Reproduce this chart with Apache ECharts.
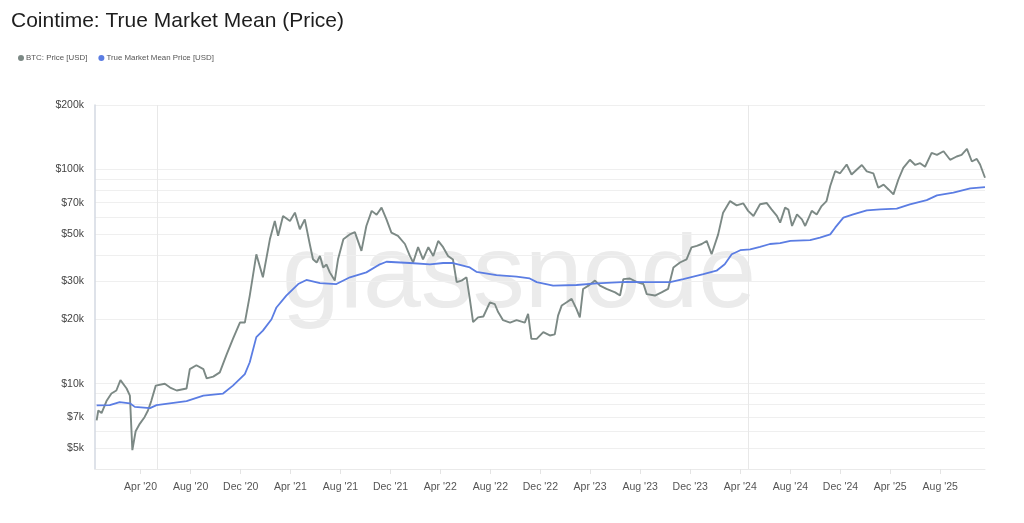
<!DOCTYPE html>
<html>
<head>
<meta charset="utf-8">
<script src="https://cdn.jsdelivr.net/npm/echarts@6/dist/echarts.min.js"></script>
<style>
html,body{margin:0;padding:0;background:#fff;}
#chart{width:1024px;height:523px;}
</style>
</head>
<body>
<div id="chart"></div>
<script>
// ---- data ----
var btcDates = ['2019-12-16','2019-12-20','2019-12-28','2020-01-09','2020-01-21','2020-02-02','2020-02-12','2020-02-27','2020-03-06','2020-03-12','2020-03-20','2020-03-30','2020-04-11','2020-04-19','2020-04-27','2020-05-08','2020-05-30','2020-06-12','2020-06-28','2020-07-22','2020-07-30','2020-08-15','2020-09-01','2020-09-09','2020-09-25','2020-10-11','2020-10-27','2020-11-12','2020-11-29','2020-12-11','2020-12-23','2021-01-08','2021-01-24','2021-02-10','2021-02-22','2021-03-02','2021-03-14','2021-03-31','2021-04-12','2021-04-24','2021-05-06','2021-05-18','2021-05-26','2021-06-04','2021-06-12','2021-06-20','2021-06-28','2021-07-06','2021-07-18','2021-07-26','2021-08-08','2021-08-24','2021-09-05','2021-09-21','2021-10-03','2021-10-16','2021-10-28','2021-11-09','2021-11-21','2021-12-03','2021-12-19','2022-01-05','2022-01-17','2022-01-25','2022-02-06','2022-02-18','2022-03-03','2022-03-15','2022-03-27','2022-04-08','2022-04-20','2022-05-02','2022-05-11','2022-05-23','2022-06-04','2022-06-12','2022-06-20','2022-07-02','2022-07-15','2022-07-31','2022-08-12','2022-08-20','2022-09-01','2022-09-18','2022-10-04','2022-10-24','2022-11-01','2022-11-09','2022-11-22','2022-12-08','2022-12-24','2023-01-05','2023-01-13','2023-01-22','2023-02-03','2023-02-15','2023-02-27','2023-03-07','2023-03-15','2023-03-28','2023-04-13','2023-04-25','2023-05-11','2023-06-01','2023-06-13','2023-06-21','2023-07-07','2023-07-24','2023-08-09','2023-08-17','2023-09-06','2023-09-22','2023-10-08','2023-10-21','2023-11-06','2023-11-22','2023-12-04','2023-12-17','2023-12-29','2024-01-10','2024-01-22','2024-02-07','2024-02-19','2024-03-07','2024-03-23','2024-04-08','2024-04-20','2024-05-03','2024-05-19','2024-06-04','2024-06-16','2024-06-29','2024-07-07','2024-07-19','2024-07-27','2024-08-05','2024-08-17','2024-08-29','2024-09-06','2024-09-22','2024-10-04','2024-10-16','2024-10-28','2024-11-06','2024-11-18','2024-11-30','2024-12-16','2024-12-28','2025-01-10','2025-01-22','2025-02-03','2025-02-19','2025-03-03','2025-03-16','2025-03-28','2025-04-09','2025-04-21','2025-05-03','2025-05-19','2025-06-01','2025-06-13','2025-06-25','2025-07-11','2025-07-24','2025-08-09','2025-08-25','2025-09-10','2025-09-22','2025-10-05','2025-10-17','2025-10-29','2025-11-06','2025-11-18'];
var btcValues = [6750,7500,7300,8300,9000,9300,10400,9500,8800,4900,6000,6500,7000,7500,8300,9800,10000,9600,9300,9500,11700,12200,11700,10600,10800,11300,13600,16200,19300,19300,25800,40200,31400,47200,57500,49000,60700,57500,62900,52600,58500,45000,38100,36800,39500,34900,36000,33100,30300,38100,47200,49800,51000,41700,54500,64100,61500,66400,58500,50700,49000,44900,39500,36800,43400,38100,43400,39500,46400,43400,39500,38000,29800,30300,31400,24900,19400,20400,20600,24000,23500,21600,19800,19300,19800,19300,21200,16200,16200,17400,16800,17000,20800,23200,24000,24900,22300,20400,27700,28700,30300,28700,27700,26700,25800,30800,31000,29800,29200,26200,25800,26700,27700,34900,36800,38100,43300,44000,44900,46400,40200,49800,62900,71200,68000,69500,64100,60700,68800,69800,65100,60700,56500,66400,65000,54500,61700,58500,54500,64100,61700,67500,71200,83700,98200,96000,105500,94800,100000,105000,98000,96000,82200,85000,80700,76500,89800,101800,111000,105000,107000,103000,119600,117000,121700,111000,115000,117000,124800,109000,112000,105500,91500];

var tmmDates = ['2019-12-16','2020-01-17','2020-02-10','2020-03-06','2020-03-18','2020-04-24','2020-05-10','2020-07-22','2020-09-01','2020-10-19','2020-11-12','2020-12-11','2020-12-23','2021-01-08','2021-01-24','2021-02-14','2021-02-26','2021-03-22','2021-04-20','2021-05-10','2021-06-12','2021-07-22','2021-08-24','2021-10-03','2021-11-05','2021-11-21','2022-01-17','2022-03-07','2022-04-08','2022-05-02','2022-06-12','2022-06-28','2022-08-16','2022-10-04','2022-11-05','2022-11-22','2023-01-01','2023-02-27','2023-04-17','2023-06-29','2023-08-17','2023-10-13','2023-11-14','2024-01-02','2024-02-03','2024-02-23','2024-03-11','2024-04-01','2024-04-25','2024-05-19','2024-06-12','2024-07-07','2024-08-01','2024-09-18','2024-10-12','2024-11-06','2024-11-18','2024-12-08','2025-01-01','2025-02-03','2025-03-08','2025-04-17','2025-05-19','2025-06-29','2025-07-24','2025-09-02','2025-10-13','2025-11-18'];
var tmmValues = [7930,7950,8200,8100,7800,7700,7950,8300,8800,9000,9800,11100,12600,16500,17700,20000,22700,25800,29200,30500,29500,29200,31400,33100,36100,37100,36600,36100,36600,36600,34900,33300,32100,31600,31000,29800,28700,28900,29400,29900,29800,29800,30800,32500,33700,36100,40200,42000,42400,43500,44900,45300,46400,46800,48100,49800,53500,59600,61700,64500,65100,65600,68800,72000,75700,77900,81600,82700];

var xTickDates = ['2020-04-01','2020-08-01','2020-12-01','2021-04-01','2021-08-01','2021-12-01','2022-04-01','2022-08-01','2022-12-01','2023-04-01','2023-08-01','2023-12-01','2024-04-01','2024-08-01','2024-12-01','2025-04-01','2025-08-01'];
var xTickLabels = ["Apr '20","Aug '20","Dec '20","Apr '21","Aug '21","Dec '21","Apr '22","Aug '22","Dec '22","Apr '23","Aug '23","Dec '23","Apr '24","Aug '24","Dec '24","Apr '25","Aug '25"];
var yGridValues = [5000,6000,7000,8000,9000,10000,20000,30000,40000,50000,60000,70000,80000,90000,100000,200000];
var yLabelValues = [5000,7000,10000,20000,30000,50000,70000,100000,200000];
var yLabelTexts = ['$5k','$7k','$10k','$20k','$30k','$50k','$70k','$100k','$200k'];
var halvingDates = ['2020-05-11','2024-04-20'];
var xRange = ['2019-12-12','2025-11-18'];
var yRange = [4000,200000];

// ---- helpers ----
function ts(s){ var p = s.split('-'); return Date.UTC(+p[0], +p[1]-1, +p[2]); }
function zip(d, v){ return d.map(function(x,i){ return [ts(x), v[i]]; }); }
var xTickTs = xTickDates.map(ts);

var chart = echarts.init(document.getElementById('chart'), null, {renderer:'canvas'});
var font = '"Liberation Sans", Arial, Helvetica, sans-serif';

chart.setOption({
  animation: false,
  backgroundColor: '#ffffff',
  textStyle: { fontFamily: font },
  title: {
    text: 'Cointime: True Market Mean (Price)',
    left: 6, top: 6,
    textStyle: { fontSize: 21, fontWeight: 'normal', color: '#1e1e1e', fontFamily: font }
  },
  legend: {
    left: 13, top: 49,
    icon: 'circle', itemWidth: 6, itemHeight: 6, itemGap: 11,
    textStyle: { fontSize: 7.9, color: '#555', fontFamily: font, padding: [0,0,0,-3] },
    data: ['BTC: Price [USD]', 'True Market Mean Price [USD]']
  },
  graphic: [{
    type: 'text', left: 282, top: 226, z: -10, silent: true,
    style: { text: 'glassnode', font: '104px "Liberation Sans", Arial, sans-serif', fill: '#ebebeb' }
  }],
  grid: { left: 95, right: 39, top: 105, bottom: 54, containLabel: false },
  xAxis: {
    type: 'value',
    min: ts(xRange[0]), max: ts(xRange[1]),
    axisLine: { show: true, lineStyle: { color: '#eaeaea', width: 1 } },
    axisTick: { show: true, length: 5, lineStyle: { color: '#e4e4e4' }, customValues: xTickTs },
    axisLabel: {
      customValues: xTickTs,
      color: '#555', fontSize: 10.5, margin: 13, fontFamily: font,
      formatter: function(v){ var i = -1; for (var k=0;k<xTickTs.length;k++){ if (Math.abs(xTickTs[k]-v) < 86400000) { i = k; break; } } return i >= 0 ? xTickLabels[i] : ''; }
    },
    splitLine: { show: false }
  },
  yAxis: {
    type: 'log', logBase: 10,
    min: yRange[0], max: yRange[1],
    axisLine: { show: true, lineStyle: { color: '#d3d9e2', width: 1.5 } },
    axisTick: { show: false, customValues: yGridValues },
    axisLabel: {
      customValues: yLabelValues,
      color: '#444', fontSize: 10.5, margin: 11, fontFamily: font,
      formatter: function(v){ var i = -1; for (var k=0;k<yLabelValues.length;k++){ if (Math.abs(yLabelValues[k]-v) < 1) { i = k; break; } } return i >= 0 ? yLabelTexts[i] : ''; }
    },
    splitLine: { show: true, lineStyle: { color: '#efefef', width: 1 } }
  },
  series: [
    {
      name: 'BTC: Price [USD]', type: 'line', showSymbol: false, symbol: 'circle',
      data: zip(btcDates, btcValues),
      lineStyle: { color: '#7c8985', width: 1.9 }, itemStyle: { color: '#7c8985' },
      z: 3,
      markLine: {
        silent: true, z: 1, symbol: ['none','none'], label: { show: false },
        lineStyle: { color: '#e8e8e8', width: 1, type: 'solid' },
        data: halvingDates.map(function(d){ return { xAxis: ts(d) }; })
      }
    },
    {
      name: 'True Market Mean Price [USD]', type: 'line', showSymbol: false, symbol: 'circle',
      data: zip(tmmDates, tmmValues),
      lineStyle: { color: '#5b7de3', width: 1.8 }, itemStyle: { color: '#5b7de3' },
      z: 4
    }
  ]
});
</script>
</body>
</html>
